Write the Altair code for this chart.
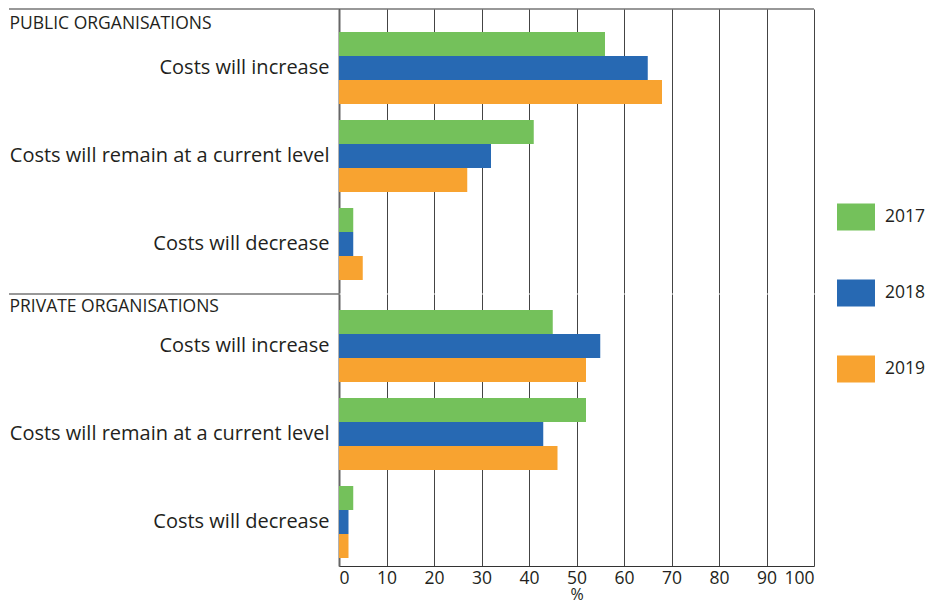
import altair as alt
import pandas as pd

categories = ["Costs will increase", "Costs will remain at a current level", "Costs will decrease"]
years = ["2017", "2018", "2019"]
colors = ["#74C15B", "#2769B3", "#F8A330"]

public_2017 = [56, 41, 3]
public_2018 = [65, 32, 3]
public_2019 = [68, 27, 5]
private_2017 = [45, 52, 3]
private_2018 = [55, 43, 2]
private_2019 = [52, 46, 2]

x_ticks = [0, 10, 20, 30, 40, 50, 60, 70, 80, 90, 100]

rows = []
for sector, series in [("public", [public_2017, public_2018, public_2019]),
                       ("private", [private_2017, private_2018, private_2019])]:
    for yr, vals in zip(years, series):
        for cat, v in zip(categories, vals):
            rows.append({"sector": sector, "category": cat, "year": yr, "value": v})
df = pd.DataFrame(rows)

FONT = "Open Sans"
TXT = "#231F20"
GRID = "#444444"
LEFT = -330


def panel(sector, header, height, pad_outer, align, title_y, bottom):
    base = alt.Chart(df[df.sector == sector])
    if bottom:
        xaxis = alt.Axis(values=x_ticks, grid=True, gridColor=GRID, gridWidth=1,
                         ticks=False, domain=True, domainColor="#333", domainWidth=1.2,
                         labelFont=FONT, labelFontSize=17.5, labelColor=TXT, labelPadding=3,
                         title="%", titleFont=FONT, titleFontSize=16, titleFontWeight="normal",
                         titleColor=TXT, titlePadding=0)
    else:
        xaxis = alt.Axis(values=x_ticks, grid=True, gridColor=GRID, gridWidth=1,
                         ticks=False, domain=False, labels=False, title=None)
    bars = base.mark_bar().encode(
        x=alt.X("value:Q", scale=alt.Scale(domain=[0, 100]), axis=xaxis),
        y=alt.Y("category:N", sort=categories,
                scale=alt.Scale(paddingInner=16 / 88, paddingOuter=pad_outer, align=align),
                axis=alt.Axis(title=header, titleAngle=0, titleX=LEFT, titleY=title_y,
                              titleAlign="left", titleBaseline="middle",
                              titleFont=FONT, titleFontSize=17.5, titleFontWeight="normal",
                              titleColor=TXT,
                              labelFont=FONT, labelFontSize=20, labelColor=TXT,
                              labelPadding=10, ticks=False, domain=True,
                              domainColor="#666", domainWidth=2, labelLimit=400)),
        yOffset=alt.YOffset("year:N", sort=years,
                            scale=alt.Scale(paddingInner=0, paddingOuter=0)),
        color=alt.Color("year:N", scale=alt.Scale(domain=years, range=colors),
                        legend=alt.Legend(title=None)),
    )
    rule_df = pd.DataFrame({"r": [0]})
    if bottom:
        rule = alt.Chart(rule_df).mark_rule(color="#333", strokeWidth=1.2).encode(
            x=alt.value(LEFT), x2=alt.value(0), y=alt.value(0))
    else:
        rule = alt.Chart(rule_df).mark_rule(color="#333", strokeWidth=1.2).encode(
            x=alt.value(LEFT), x2=alt.value(475), y=alt.value(0))
    return alt.layer(bars, rule).properties(width=475, height=height)


top = panel("public", "PUBLIC ORGANISATIONS", 284, 0.2045, 0.639, 14, False)
bot = panel("private", "PRIVATE ORGANISATIONS", 272, 0.136, 0.667, 12, True)

chart = alt.vconcat(top, bot, spacing=0).properties(
    padding={"left": 0, "top": 0, "right": 0, "bottom": 2}
).configure_view(stroke=None).configure_legend(
    orient="none", legendX=498, legendY=189,
    symbolType="M-1,-0.71L1,-0.71L1,0.71L-1,0.71Z", symbolSize=1444,
    symbolStrokeWidth=0, symbolOpacity=1,
    labelFont=FONT, labelFontSize=17.5, labelColor=TXT, labelOffset=10,
    rowPadding=43, padding=0
).configure_axis(labelFont=FONT)

chart.save("out.html", embed_options={"renderer": "svg", "actions": False})
